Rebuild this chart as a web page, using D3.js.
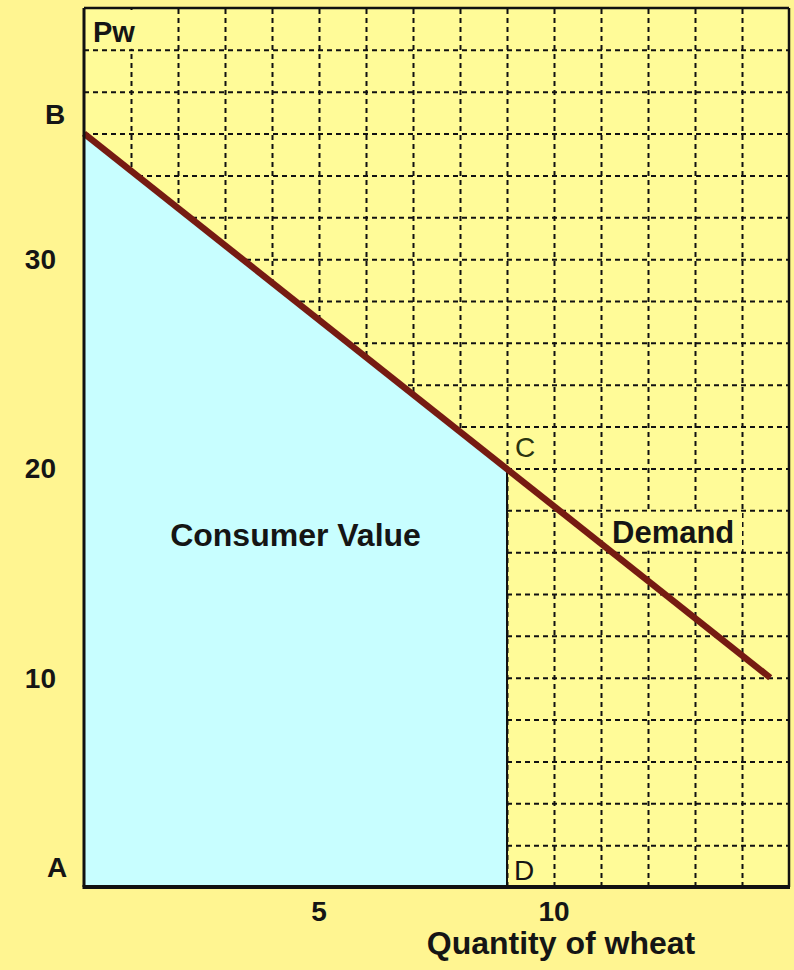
<!DOCTYPE html>
<html>
<head>
<meta charset="utf-8">
<script src="https://cdn.jsdelivr.net/npm/d3@7"></script>
<style>
  body { margin: 0; background: #fff591; }
  svg { display: block; }
  .lbl { font-family: "Liberation Sans", Arial, sans-serif; fill: #151515; }
  .bold { font-weight: bold; }
</style>
</head>
<body>
<svg id="chart"></svg>
<script>
// Demand curve for wheat (quantity, price)
const demandQty = [0, 14.6];
const demandPrice = [36, 10];

// Point where consumption stops (C on the curve, D on the axis)
const boughtQty = 9;
const boughtPrice = 20;

// Axis ticks and grid
const xTickValues = [5, 10];
const yTickValues = [10, 20, 30];
const xGridValues = [1, 2, 3, 4, 5, 6, 7, 8, 9, 10, 11, 12, 13, 14];
const yGridValues = [2, 4, 6, 8, 10, 12, 14, 16, 18, 20, 22, 24, 26, 28, 30, 32, 34, 36, 38, 40];

// Point names
const pointNames = ['A', 'B', 'C', 'D'];

class DemandChart {

  constructor(_config) {
    this.config = {
      parentElement: _config.parentElement,
      containerWidth: _config.containerWidth || 794,
      containerHeight: _config.containerHeight || 970,
      margin: _config.margin || {top: 8, right: 5, bottom: 83, left: 84}
    }
    this.initVis();
  }

  initVis() {
    let vis = this;

    vis.width = vis.config.containerWidth - vis.config.margin.left - vis.config.margin.right;
    vis.height = vis.config.containerHeight - vis.config.margin.top - vis.config.margin.bottom;

    vis.xScale = d3.scaleLinear().domain([0, 15]).range([0, vis.width]);
    vis.yScale = d3.scaleLinear().domain([0, 42]).range([vis.height, 0]);

    vis.svg = d3.select(vis.config.parentElement)
        .attr('width', vis.config.containerWidth)
        .attr('height', vis.config.containerHeight);

    vis.svg.append('rect')
        .attr('width', vis.config.containerWidth)
        .attr('height', vis.config.containerHeight)
        .attr('fill', '#fff591');

    vis.chart = vis.svg.append('g')
        .attr('transform', `translate(${vis.config.margin.left},${vis.config.margin.top})`);

    // plot background
    vis.chart.append('rect')
        .attr('width', vis.width)
        .attr('height', vis.height)
        .attr('fill', '#fffb98');

    vis.renderVis();
  }

  renderVis() {
    let vis = this;
    const x = vis.xScale, y = vis.yScale;

    // dashed grid, drawn with the axis generators
    const gridX = d3.axisBottom(x).tickValues(xGridValues).tickSize(-vis.height).tickFormat('');
    const gridY = d3.axisLeft(y).tickValues(yGridValues).tickSize(-vis.width).tickFormat('');

    vis.chart.append('g')
        .attr('class', 'grid')
        .attr('transform', `translate(0,${vis.height})`)
        .call(gridX);
    vis.chart.append('g')
        .attr('class', 'grid')
        .call(gridY);

    vis.chart.selectAll('.grid .domain').remove();
    vis.chart.selectAll('.grid line')
        .attr('stroke', '#111')
        .attr('stroke-width', 2)
        .attr('stroke-dasharray', '5,4');

    // consumer value area under the curve
    const slope = (demandPrice[1] - demandPrice[0]) / (demandQty[1] - demandQty[0]);
    const areaPts = [
      [0, 0],
      [demandQty[0], demandPrice[0]],
      [boughtQty, demandPrice[0] + slope * boughtQty],
      [boughtQty, 0]
    ];
    vis.chart.append('path')
        .attr('d', d3.line().x(d => x(d[0])).y(d => y(d[1]))(areaPts) + 'Z')
        .attr('fill', '#c8feff');

    // C - D line
    vis.chart.append('line')
        .attr('x1', x(boughtQty)).attr('x2', x(boughtQty))
        .attr('y1', y(0)).attr('y2', y(boughtPrice))
        .attr('stroke', '#111')
        .attr('stroke-width', 2);

    // boxes that hide the grid behind "Pw" and "Demand"
    vis.chart.append('rect')
        .attr('x', 3).attr('y', 2)
        .attr('width', 52).attr('height', y(40) - 3)
        .attr('fill', '#fffb98');
    vis.chart.append('rect')
        .attr('x', 520).attr('y', y(18) + 1.5)
        .attr('width', 138).attr('height', y(16) - y(18) - 3)
        .attr('fill', '#fffb98');

    // demand line
    vis.chart.append('path')
        .datum(demandQty.map((q, i) => [q, demandPrice[i]]))
        .attr('d', d3.line().x(d => x(d[0])).y(d => y(d[1])))
        .attr('fill', 'none')
        .attr('stroke', '#761b12')
        .attr('stroke-width', 6.5);

    // frame
    vis.chart.append('line')
        .attr('x1', 0).attr('x2', vis.width).attr('y1', 0).attr('y2', 0)
        .attr('stroke', '#111').attr('stroke-width', 2.5);
    vis.chart.append('line')
        .attr('x1', vis.width).attr('x2', vis.width).attr('y1', 0).attr('y2', vis.height)
        .attr('stroke', '#111').attr('stroke-width', 2.5);
    vis.chart.append('line')
        .attr('x1', 0).attr('x2', 0).attr('y1', 0).attr('y2', vis.height)
        .attr('stroke', '#111').attr('stroke-width', 3);
    vis.chart.append('line')
        .attr('x1', -1.5).attr('x2', vis.width + 1).attr('y1', vis.height).attr('y2', vis.height)
        .attr('stroke', '#111').attr('stroke-width', 4);

    // tick labels
    vis.chart.selectAll('.x-tick')
        .data(xTickValues)
      .join('text')
        .attr('class', 'lbl bold x-tick')
        .attr('x', d => x(d))
        .attr('y', vis.height + 34)
        .attr('text-anchor', 'middle')
        .style('font-size', '28px')
        .text(d => d);

    vis.chart.selectAll('.y-tick')
        .data(yTickValues)
      .join('text')
        .attr('class', 'lbl bold y-tick')
        .attr('x', -28)
        .attr('y', d => y(d) + 10)
        .attr('text-anchor', 'end')
        .style('font-size', '28px')
        .text(d => d);

    // A and B on the price axis
    vis.chart.append('text')
        .attr('class', 'lbl bold')
        .attr('x', -27).attr('y', y(0) - 10)
        .attr('text-anchor', 'middle')
        .style('font-size', '28px')
        .text(pointNames[0]);
    vis.chart.append('text')
        .attr('class', 'lbl bold')
        .attr('x', -29).attr('y', y(demandPrice[0]) - 10)
        .attr('text-anchor', 'middle')
        .style('font-size', '28px')
        .text(pointNames[1]);

    // C and D
    vis.chart.append('text')
        .attr('class', 'lbl')
        .attr('x', x(boughtQty) + 8).attr('y', y(boughtPrice) - 11)
        .style('font-size', '28px')
        .style('fill', '#2a3410')
        .text(pointNames[2]);
    vis.chart.append('text')
        .attr('class', 'lbl')
        .attr('x', x(boughtQty) + 7).attr('y', y(0) - 7)
        .style('font-size', '28px')
        .text(pointNames[3]);

    vis.chart.append('text')
        .attr('class', 'lbl bold')
        .attr('x', 9).attr('y', 34)
        .style('font-size', '29px')
        .text('Pw');

    // region labels
    vis.chart.append('text')
        .attr('class', 'lbl bold')
        .attr('x', x(4.5)).attr('y', y(16.8) + 11)
        .attr('text-anchor', 'middle')
        .style('font-size', '32px')
        .text('Consumer Value');

    vis.chart.append('text')
        .attr('class', 'lbl bold')
        .attr('x', 528).attr('y', y(16.8) + 8)
        .style('font-size', '31px')
        .text('Demand');

    // axis title
    vis.chart.append('text')
        .attr('class', 'lbl bold')
        .attr('x', x(10) + 7).attr('y', vis.height + 67)
        .attr('text-anchor', 'middle')
        .style('font-size', '32px')
        .text('Quantity of wheat');
  }
}

new DemandChart({ parentElement: '#chart' });
</script>
</body>
</html>
